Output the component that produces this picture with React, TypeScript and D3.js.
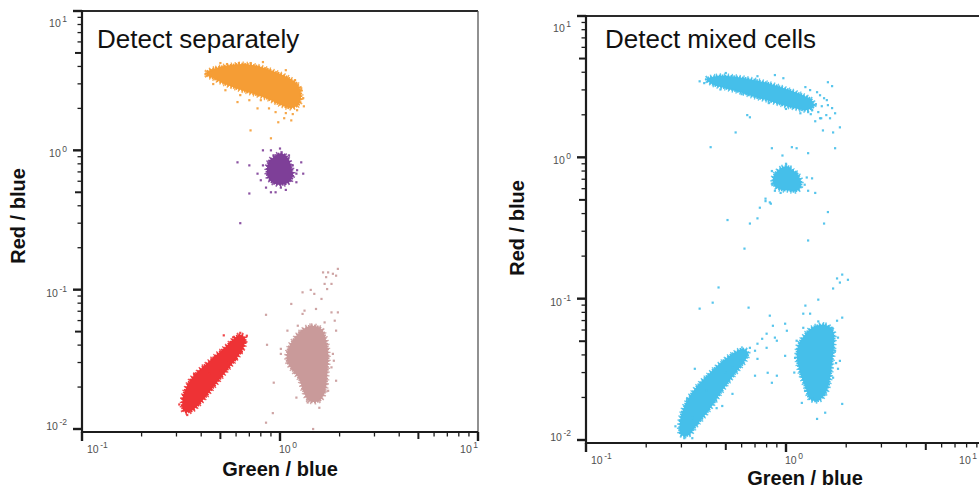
import React from 'react';
import * as d3 from 'd3';

type Pt = [number, number];

// ---------------- axes & text ----------------
const X_DOMAIN: Pt = [0.1, 10];
const Y_DOMAIN: Pt = [0.01, 10];
const X_MAJOR = [0.1, 1, 10];
const X_MAJOR_EXP = ['-1', '0', '1'];
const Y_MAJOR = [0.01, 0.1, 1, 10];
const Y_MAJOR_EXP = ['-2', '-1', '0', '1'];
const TITLES = ['Detect separately', 'Detect mixed cells'];
const X_TITLE = 'Green / blue';
const Y_TITLE = 'Red / blue';

// ---------------- left panel: detect separately ----------------
// dense cores (outline of the dense point cloud, green/blue , red/blue)
const sepOrangeCore: Pt[] = [
  [0.426, 3.64], [0.473, 3.89], [0.564, 4.09], [0.671, 4.16], [0.801, 3.96], [0.954, 3.64],
  [1.111, 3.30], [1.234, 2.94], [1.278, 2.49], [1.248, 2.14], [1.137, 2.01], [0.989, 2.14],
  [0.849, 2.37], [0.713, 2.57], [0.598, 2.79], [0.514, 3.03], [0.457, 3.30], [0.426, 3.46],
];
const sepPurpleCore: Pt[] = [
  [0.922, 0.890], [1.012, 0.951], [1.098, 0.876], [1.137, 0.767], [1.164, 0.672], [1.124, 0.598],
  [1.036, 0.569], [0.932, 0.579], [0.869, 0.639], [0.859, 0.742], [0.879, 0.834],
];
const sepRedCore: Pt[] = [
  [0.3256, 0.01348], [0.3219, 0.0164], [0.3333, 0.0194], [0.3534, 0.0226], [0.3881, 0.0262],
  [0.4311, 0.0299], [0.4788, 0.0342], [0.5319, 0.0390], [0.5773, 0.0437], [0.6265, 0.0475],
  [0.6642, 0.0452], [0.657, 0.0390], [0.6119, 0.0330], [0.5573, 0.0280], [0.5076, 0.0237],
  [0.4622, 0.0201], [0.4211, 0.0170], [0.3836, 0.01464], [0.3493, 0.01326],
];
const sepPinkCore: Pt[] = [
  [1.278, 0.0507], [1.437, 0.0551], [1.615, 0.0524], [1.712, 0.0430], [1.753, 0.0335], [1.732, 0.0253],
  [1.692, 0.0188], [1.578, 0.0159], [1.403, 0.0159], [1.309, 0.0188], [1.248, 0.0229], [1.164, 0.0261],
  [1.085, 0.0308], [1.098, 0.0376], [1.178, 0.0444],
];
// sparse single cells
const sepOrangePts: Pt[] = [
  [0.61, 2.22], [0.70, 2.29], [0.77, 2.0], [0.88, 2.0], [0.95, 1.88], [1.07, 1.85], [1.05, 1.70],
  [1.14, 1.64], [1.16, 1.82], [0.98, 1.59], [0.71, 1.39], [0.90, 1.22], [0.62, 4.23], [0.54, 4.16],
  [0.82, 4.30], [1.19, 3.19], [1.28, 2.79], [1.31, 2.37], [0.45, 3.76], [0.42, 3.52], [0.50, 4.23],
  [0.71, 4.23], [1.07, 3.76], [1.28, 2.70], [1.32, 2.07], [1.22, 1.94], [0.80, 2.29], [0.63, 2.49],
  [0.53, 2.70], [0.46, 2.99],
];
const sepPurplePts: Pt[] = [
  [0.61, 0.82], [0.77, 0.68], [0.80, 0.61], [0.85, 0.54], [0.95, 0.50], [1.01, 0.54], [1.21, 0.68],
  [1.28, 0.82], [1.31, 0.68], [0.90, 1.0], [0.93, 0.92], [1.11, 0.92], [1.16, 0.78], [1.21, 0.59],
  [0.98, 0.58], [0.70, 0.49], [0.63, 0.30], [0.82, 0.78], [1.22, 0.72], [1.07, 0.52], [0.90, 0.50],
  [0.70, 0.78], [0.82, 1.0], [1.0, 1.03],
];
const sepRedPts: Pt[] = [
  [0.52, 0.047], [0.58, 0.0455], [0.63, 0.0490], [0.67, 0.0416], [0.64, 0.0357], [0.60, 0.0318],
  [0.55, 0.0300], [0.50, 0.0262], [0.45, 0.0214], [0.40, 0.0178], [0.36, 0.0142], [0.44, 0.0249],
  [0.37, 0.0249], [0.68, 0.0467], [0.34, 0.0126], [0.31, 0.0150], [0.47, 0.0330],
];
const sepPinkPts: Pt[] = [
  [1.65, 0.133], [1.75, 0.133], [1.85, 0.130], [1.96, 0.141], [1.92, 0.126], [1.71, 0.123], [1.68, 0.110],
  [1.82, 0.110], [1.73, 0.101], [1.30, 0.0957], [1.43, 0.0996], [1.49, 0.0933], [1.62, 0.0858],
  [1.14, 0.079], [1.33, 0.0707], [1.52, 0.0727], [1.30, 0.067], [1.82, 0.0687], [1.96, 0.0687],
  [1.89, 0.0599], [1.68, 0.0582], [1.23, 0.0551], [1.09, 0.0508], [1.92, 0.0508], [1.01, 0.0376],
  [1.01, 0.0346], [1.85, 0.0346], [1.87, 0.0309], [1.82, 0.0277], [1.92, 0.0222], [1.75, 0.0188],
  [1.21, 0.0168], [1.38, 0.0155], [1.58, 0.0142], [0.85, 0.066], [0.86, 0.0402], [0.93, 0.0215],
  [0.92, 0.0130], [0.85, 0.0111], [1.47, 0.0100],
];

// ---------------- right panel: detect mixed cells ----------------
const mixUpperCore: Pt[] = [
  [0.3982, 3.575], [0.4467, 3.753], [0.5248, 3.753], [0.6237, 3.634], [0.7413, 3.46], [0.881, 3.241],
  [1.047, 2.987], [1.217, 2.753], [1.349, 2.537], [1.38, 2.30], [1.259, 2.154], [1.109, 2.225],
  [0.966, 2.338], [0.832, 2.496], [0.700, 2.665], [0.589, 2.891], [0.4955, 3.086], [0.4266, 3.294],
];
const mixMiddleCore: Pt[] = [
  [0.891, 0.783], [0.955, 0.849], [1.023, 0.863], [1.084, 0.809], [1.135, 0.770], [1.19, 0.676],
  [1.175, 0.603], [1.109, 0.574], [1.023, 0.583], [0.933, 0.593], [0.871, 0.633], [0.861, 0.710],
];
const mixLowLeftCore: Pt[] = [
  [0.298, 0.01085], [0.295, 0.01364], [0.306, 0.0166], [0.331, 0.0205], [0.363, 0.0245], [0.398, 0.0280],
  [0.437, 0.0319], [0.490, 0.0369], [0.550, 0.0414], [0.610, 0.0442], [0.646, 0.0414], [0.624, 0.0363],
  [0.582, 0.0319], [0.531, 0.0271], [0.479, 0.0223], [0.437, 0.0183], [0.394, 0.0150], [0.355, 0.01257],
  [0.327, 0.01085],
];
const mixLowRightCore: Pt[] = [
  [1.349, 0.0623], [1.567, 0.0654], [1.718, 0.0593], [1.738, 0.0464], [1.699, 0.0351], [1.66, 0.0271],
  [1.585, 0.0216], [1.445, 0.0189], [1.318, 0.0195], [1.259, 0.0230], [1.175, 0.0299], [1.135, 0.0375],
  [1.148, 0.0464], [1.231, 0.0547],
];
const mixPts: Pt[] = [
  [0.39, 3.35], [1.62, 3.40], [1.70, 3.19], [1.48, 2.75], [1.60, 2.54], [1.70, 2.23], [1.76, 2.05],
  [1.86, 1.63], [1.72, 1.50], [1.53, 1.55], [1.48, 1.89], [0.64, 1.99], [0.66, 1.92], [0.56, 1.50],
  [0.42, 1.18], [0.85, 1.16], [1.07, 1.18], [1.13, 1.16], [1.29, 1.07], [0.96, 1.03], [1.76, 1.16],
  [0.83, 0.48], [0.79, 0.51], [0.88, 3.82], [0.97, 3.63], [1.25, 3.14], [1.32, 2.99], [1.43, 2.89],
  [1.35, 2.15], [1.45, 2.09], [1.51, 2.30], [1.41, 2.38], [1.59, 1.99], [1.50, 1.89], [1.33, 2.02],
  [1.62, 2.34], [1.55, 2.62], [1.29, 2.09], [1.66, 1.89], [1.40, 1.80], [0.37, 3.45], [0.50, 3.95],
  [0.72, 3.75], [0.60, 2.80], [0.82, 2.42], [1.00, 2.20], [1.18, 2.05], [0.47, 3.02],
  [0.85, 0.80], [0.85, 0.65], [0.88, 0.58], [1.27, 0.72], [1.35, 0.71], [1.40, 0.56], [1.29, 0.58],
  [1.13, 0.77], [1.08, 0.81], [1.24, 0.64], [1.00, 0.90], [0.94, 0.56],
  [0.79, 0.49], [0.84, 0.47], [0.74, 0.44], [0.72, 0.37], [0.51, 0.36], [0.66, 0.34], [1.62, 0.41],
  [1.55, 0.34], [1.29, 0.258], [0.62, 0.226],
  [0.46, 0.120], [0.43, 0.0937], [0.37, 0.085], [0.65, 0.0864], [1.25, 0.0893], [1.45, 0.0984],
  [1.72, 0.118], [1.80, 0.139], [1.86, 0.130], [1.91, 0.148], [2.04, 0.136], [0.83, 0.0758],
  [0.99, 0.0665], [1.01, 0.0593], [0.86, 0.0643], [0.88, 0.053], [0.90, 0.0504], [0.80, 0.0449],
  [0.70, 0.0428], [0.72, 0.0375], [0.81, 0.0299], [0.90, 0.0285], [0.85, 0.0254], [0.70, 0.0285],
  [0.35, 0.0319], [0.99, 0.0394], [1.11, 0.0381], [1.22, 0.0783], [1.32, 0.0783], [1.80, 0.0698],
  [1.91, 0.0734], [1.82, 0.053], [1.86, 0.0363], [1.82, 0.0319], [1.91, 0.0180], [1.43, 0.0141],
  [1.57, 0.0156], [1.20, 0.0183], [0.45, 0.0168], [0.48, 0.0174], [0.54, 0.0212], [0.31, 0.0103],
  [0.34, 0.0103],
  [0.66, 0.0449], [0.72, 0.048], [0.76, 0.052], [0.80, 0.0565], [0.59, 0.0363], [0.54, 0.0324],
  [0.40, 0.0223], [0.34, 0.0143], [0.36, 0.0130], [0.28, 0.0125], [0.32, 0.0195], [0.50, 0.0300],
  [1.22, 0.0622], [1.13, 0.0504], [1.70, 0.0622], [1.76, 0.0428], [1.72, 0.0276], [1.51, 0.0223],
  [1.36, 0.0195], [1.245, 0.0223], [1.10, 0.0300], [1.78, 0.0350], [1.45, 0.0690],
];

// ---------------- styling / layout ----------------
const COLORS = {
  orange: '#F59D35',
  purple: '#7E3F98',
  red: '#EE3235',
  pink: '#C99A9A',
  blue: '#45BFEA',
};
const FONT = '"Liberation Sans", Arial, Helvetica, sans-serif';

type Group = { core: Pt[]; pts: Pt[]; color: string };

const LEFT_GROUPS: Group[] = [
  { core: sepOrangeCore, pts: sepOrangePts, color: COLORS.orange },
  { core: sepPurpleCore, pts: sepPurplePts, color: COLORS.purple },
  { core: sepRedCore, pts: sepRedPts, color: COLORS.red },
  { core: sepPinkCore, pts: sepPinkPts, color: COLORS.pink },
];
const RIGHT_GROUPS: Group[] = [
  { core: mixUpperCore, pts: [], color: COLORS.blue },
  { core: mixMiddleCore, pts: [], color: COLORS.blue },
  { core: mixLowLeftCore, pts: [], color: COLORS.blue },
  { core: mixLowRightCore, pts: mixPts, color: COLORS.blue },
];

const LAYOUT = [
  { x0: 82, x1: 478, y0: 11, y1: 429, axisY: 432, titleX: 97, titleY: 48, xlX: 280, xlY: 476, ylX: 25, ylY: 216 },
  { x0: 586, x1: 986, y0: 16, y1: 440, axisY: 443, titleX: 605, titleY: 48, xlX: 805, xlY: 485, ylX: 524, ylY: 228 },
];
const VIEW_W = 979;

type Lay = (typeof LAYOUT)[number];

function tickKind(v: number) {
  const e = Math.floor(Math.log10(v) + 1e-9);
  const m = Math.round(v / Math.pow(10, e));
  return m === 1 ? 'major' : m === 5 ? 'mid' : 'minor';
}
const TICK_LEN: Record<string, number> = { major: 9, mid: 7, minor: 4.5 };
const TICK_W: Record<string, number> = { major: 2.4, mid: 2, minor: 1.3 };

function Panel({ L, title, groups }: { L: Lay; title: string; groups: Group[] }) {
  const x = d3.scaleLog().domain(X_DOMAIN).range([L.x0, L.x1]);
  const y = d3.scaleLog().domain(Y_DOMAIN).range([L.y1, L.y0]);
  const blob = d3
    .line<Pt>()
    .x((d) => x(d[0]))
    .y((d) => y(d[1]))
    .curve(d3.curveCatmullRomClosed.alpha(0.5));
  const xt = x.ticks();
  const yt = y.ticks();
  const axisColor = '#1c1c1c';
  return (
    <g>
      {/* clusters */}
      {groups.map((g, i) => (
        <g key={'g' + i}>
          <path
            d={blob(g.core) || ''}
            fill="none"
            stroke={g.color}
            strokeWidth={5}
            strokeDasharray="1.3 2.6"
            opacity={0.85}
          />
          <path
            d={blob(g.core) || ''}
            fill={g.color}
            stroke={g.color}
            strokeWidth={2.4}
            strokeDasharray="1.6 1.3"
          />
          {g.pts.map((p, j) => (
            <rect key={j} x={x(p[0]) - 1.1} y={y(p[1]) - 1.1} width={2.2} height={2.2} fill={g.color} opacity={0.9} />
          ))}
        </g>
      ))}
      {/* frame */}
      <line x1={L.x0} x2={L.x1} y1={L.y0} y2={L.y0} stroke="#2a2a2a" strokeWidth={1.8} />
      <line x1={L.x1} x2={L.x1} y1={L.y0} y2={L.axisY} stroke="#555" strokeWidth={1.3} />
      <line x1={L.x0} x2={L.x0} y1={L.y0 - 1} y2={L.axisY + 1} stroke={axisColor} strokeWidth={2.2} />
      <line x1={L.x0} x2={L.x1} y1={L.axisY} y2={L.axisY} stroke={axisColor} strokeWidth={2.2} />
      {/* ticks */}
      {yt.map((v, i) => {
        const k = tickKind(v);
        return (
          <line key={'yt' + i} x1={L.x0 - TICK_LEN[k]} x2={L.x0} y1={y(v)} y2={y(v)} stroke={axisColor} strokeWidth={TICK_W[k]} />
        );
      })}
      {xt.map((v, i) => {
        const k = tickKind(v);
        return (
          <line key={'xt' + i} x1={x(v)} x2={x(v)} y1={L.axisY} y2={L.axisY + TICK_LEN[k]} stroke={axisColor} strokeWidth={TICK_W[k]} />
        );
      })}
      {/* tick labels */}
      {Y_MAJOR.map((v, i) => {
        const base = Math.max(L.y0 + 16, Math.min(L.y1 + 1, y(v) + 7));
        return (
          <text key={'yl' + i} x={L.x0 - 15} y={base} textAnchor="end" fontFamily={FONT} fontSize={10.5} fill="#505050">
            <tspan>10</tspan>
            <tspan dx={1.5} dy={-5} fontSize={8.5}>
              {Y_MAJOR_EXP[i]}
            </tspan>
          </text>
        );
      })}
      {X_MAJOR.map((v, i) => {
        const first = i === 0;
        const last = i === X_MAJOR.length - 1;
        const px = first ? L.x0 + 5 : last ? Math.min(L.x1, VIEW_W - 2) : x(v) + 8;
        const anchor = first ? 'start' : last ? 'end' : 'middle';
        return (
          <text key={'xl' + i} x={px} y={L.axisY + 21} textAnchor={anchor} fontFamily={FONT} fontSize={10.5} fill="#505050">
            <tspan>10</tspan>
            <tspan dx={1.5} dy={-5} fontSize={8.5}>
              {X_MAJOR_EXP[i]}
            </tspan>
          </text>
        );
      })}
      {/* titles */}
      <text x={L.titleX} y={L.titleY} fontFamily={FONT} fontSize={26} fill="#111">
        {title}
      </text>
      <text x={L.xlX} y={L.xlY} textAnchor="middle" fontFamily={FONT} fontSize={20} fontWeight="bold" fill="#111">
        {X_TITLE}
      </text>
      <text
        transform={`translate(${L.ylX},${L.ylY}) rotate(-90)`}
        textAnchor="middle"
        fontFamily={FONT}
        fontSize={20}
        fontWeight="bold"
        fill="#111"
      >
        {Y_TITLE}
      </text>
    </g>
  );
}

export default function App() {
  return (
    <svg
      width={979}
      height={489}
      viewBox="0 0 979 489"
      style={{ position: 'absolute', left: 0, top: 0, background: '#fff', display: 'block' }}
    >
      <rect x={0} y={0} width={979} height={489} fill="#fff" />
      <Panel L={LAYOUT[0]} title={TITLES[0]} groups={LEFT_GROUPS} />
      <Panel L={LAYOUT[1]} title={TITLES[1]} groups={RIGHT_GROUPS} />
    </svg>
  );
}
